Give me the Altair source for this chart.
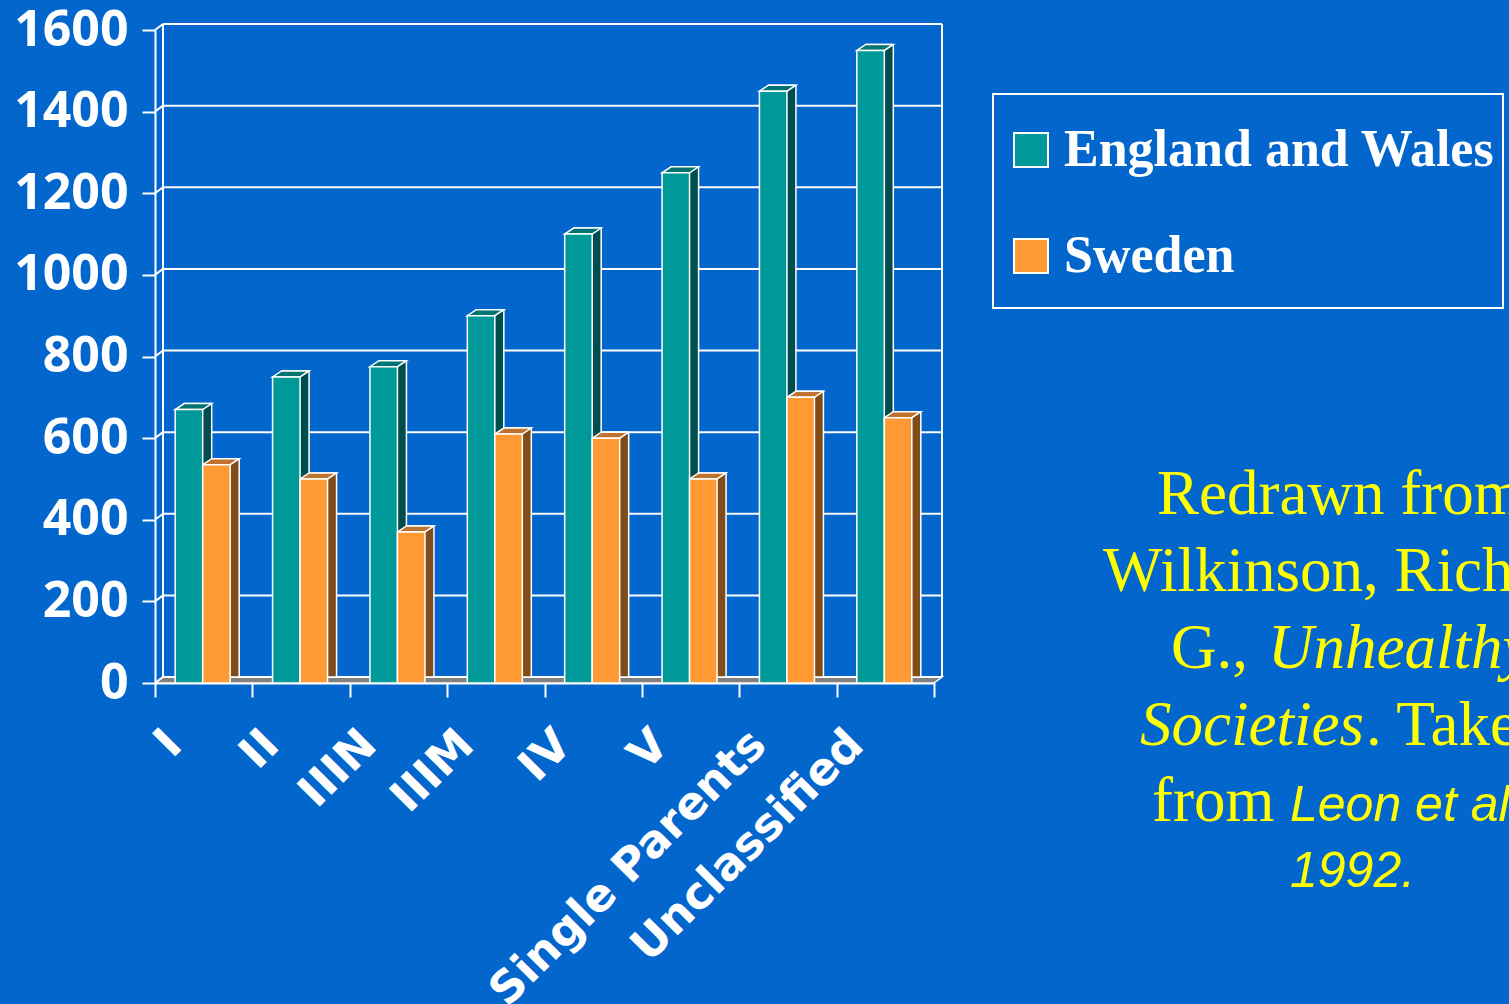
import altair as alt
import pandas as pd

# ---------------- data ----------------
categories = ["I", "II", "IIIN", "IIIM", "IV", "V", "Single Parents", "Unclassified"]
series = ["England and Wales", "Sweden"]
england_wales = [670, 750, 775, 900, 1100, 1250, 1450, 1550]
sweden = [535, 500, 370, 610, 600, 500, 700, 650]
y_ticks = [0, 200, 400, 600, 800, 1000, 1200, 1400, 1600]

# ---------------- styles ----------------
front_colors = ["#009999", "#FF9933"]
side_colors = ["#004D4D", "#7F4C1A"]
top_colors = ["#007373", "#BF7330"]
BG = "#0366CC"
W, H = 779, 653
DX, DY = 9, -6      # bar depth (px)
BX, BY = 8, -6      # back wall depth (px)
BW = 27.5           # bar width (px)
HALF = BW / 2
OFFS = [-HALF - 1, HALF - 1]   # bar centre offsets within a category

rows = []
for i, c in enumerate(categories):
    rows.append({"category": c, "series": series[0], "value": england_wales[i]})
    rows.append({"category": c, "series": series[1], "value": sweden[i]})
df = pd.DataFrame(rows)
grid_df = pd.DataFrame({"tick": y_ticks})

x_scale = alt.Scale(domain=categories, paddingInner=0, paddingOuter=0)
y_scale = alt.Scale(domain=[0, 1600], nice=False, zero=True)

X_AXIS = alt.Axis(
    title=None, tickBand="extent", labelAngle=-45, labelAlign="right",
    labelBaseline="middle", labelFont="DejaVu Sans", labelFontWeight="bold",
    labelFontSize=45, labelColor="white", labelOffset=-30, labelPadding=40,
    labelLimit=1000, labelOverlap=False, tickSize=14, tickWidth=2,
    tickColor="white", domainColor="white", domainWidth=2)
Y_AXIS = alt.Axis(
    title=None, values=y_ticks, format="d", grid=False, domainColor="white",
    domainWidth=2, tickColor="white", tickWidth=2, tickSize=13,
    labelFont="Open Sans", labelFontWeight="bold", labelFontSize=50,
    labelColor="white", labelPadding=14, labelOverlap=False)

X = alt.X("category:N", scale=x_scale, sort=categories, axis=X_AXIS)
YV = alt.Y("value:Q", scale=y_scale, axis=Y_AXIS)
YT = alt.Y("tick:Q", scale=y_scale, axis=Y_AXIS)

# square legend symbol whose layout box reaches a little lower than the square
LEGEND_SYMBOL = "M-1,-1 L1,-1 L1,1 L-1,1 Z M0,2.3"
LEGEND = alt.Legend(
    title=" ", titleFontSize=14, titlePadding=8, orient="none",
    legendX=838, legendY=64, direction="vertical",
    symbolType=LEGEND_SYMBOL, symbolSize=1156, symbolStrokeColor="white",
    symbolStrokeWidth=2, labelFont="Liberation Serif", labelFontWeight="bold",
    labelFontSize=52, labelColor="white", labelOffset=7, symbolOffset=4,
    rowPadding=36, padding=8, strokeColor="white", labelLimit=1000)
COLOR = alt.Color("series:N", scale=alt.Scale(domain=series, range=front_colors),
                  sort=series, legend=LEGEND)

# floor (parallelogram at value 0)
floor = alt.Chart(grid_df).transform_filter("datum.tick == 0").mark_point(
    shape=f"M0,0 L{W},0 L{W+BX},{BY} L{BX},{BY} Z", size=4, filled=True,
    fill="#808080", stroke="white", strokeWidth=1.5, opacity=1
).encode(x=alt.value(0), y=YT)

# back-wall gridlines
grid = alt.Chart(grid_df).mark_rule(
    color="white", strokeWidth=2, yOffset=BY, y2Offset=BY
).encode(x=alt.value(BX), x2=alt.value(W + BX), y=YT, y2=alt.Y2("tick:Q"))

# connectors from front ticks to back wall
conn = alt.Chart(grid_df).mark_rule(
    color="white", strokeWidth=2, y2Offset=BY
).encode(x=alt.value(0), x2=alt.value(BX), y=YT, y2=alt.Y2("tick:Q"))

# back wall verticals
wall_l = alt.Chart(grid_df).transform_filter("datum.tick == 0").mark_rule(
    color="white", strokeWidth=2
).encode(x=alt.value(BX), y=alt.value(BY), y2=alt.value(H + BY))
wall_r = alt.Chart(grid_df).transform_filter("datum.tick == 0").mark_rule(
    color="white", strokeWidth=2
).encode(x=alt.value(W + BX), y=alt.value(BY), y2=alt.value(H + BY))

sides, tops, fronts = [], [], []
for k, s in enumerate(series):
    sub = alt.Chart(df).transform_filter(alt.datum.series == s)
    sides.append(sub.mark_bar(
        width=BW, xOffset=OFFS[k] + DX, yOffset=DY, y2Offset=DY,
        fill=side_colors[k], stroke="white", strokeWidth=1.5
    ).encode(x=X, y=YV))
    tops.append(sub.mark_point(
        shape=f"M{-HALF},0 L{HALF},0 L{HALF+DX},{DY} L{-HALF+DX},{DY} Z",
        size=4, filled=True, fill=top_colors[k], stroke="white",
        strokeWidth=1.5, opacity=1, xOffset=OFFS[k]
    ).encode(x=X, y=YV))
    fronts.append(sub.mark_bar(
        width=BW, xOffset=OFFS[k], stroke="white", strokeWidth=1.5, opacity=1
    ).encode(x=X, y=YV, color=COLOR))

# annotation (yellow citation text)
YEL = "#FFFF00"
one = grid_df[grid_df.tick == 0]
def txt(s, px, py, font="Liberation Serif", size=63, style="normal"):
    return alt.Chart(one).mark_text(
        text=s, font=font, fontSize=size, fontStyle=style, color=YEL,
        align="left", baseline="alphabetic"
    ).encode(x=alt.value(px - 155), y=alt.value(py - 30))

notes = [
    txt("Redrawn from", 1157, 514),
    txt("Wilkinson, Richard", 1103, 591),
    txt("G., ", 1171, 668),
    txt("Unhealthy", 1268, 668, style="italic"),
    txt("Societies", 1140, 745, style="italic"),
    txt(". Taken", 1366, 745),
    txt("from", 1152, 821),
    txt("Leon et al", 1290, 821, font="Liberation Sans", size=50, style="italic"),
    txt("1992.", 1290, 887, font="Liberation Sans", size=50, style="italic"),
]

chart = alt.layer(
    floor, grid, conn, wall_l, wall_r, *sides, *tops, *fronts, *notes
).properties(
    width=W, height=H,
    padding={"left": 155, "top": 30, "right": 1509 - 155 - W, "bottom": 1004 - 30 - H},
    autosize=alt.AutoSizeParams(type="none"),
    background=BG,
).configure_view(stroke="transparent").configure_legend(strokeWidth=2)

chart.save("out.html", embed_options={"renderer": "svg", "actions": False})
